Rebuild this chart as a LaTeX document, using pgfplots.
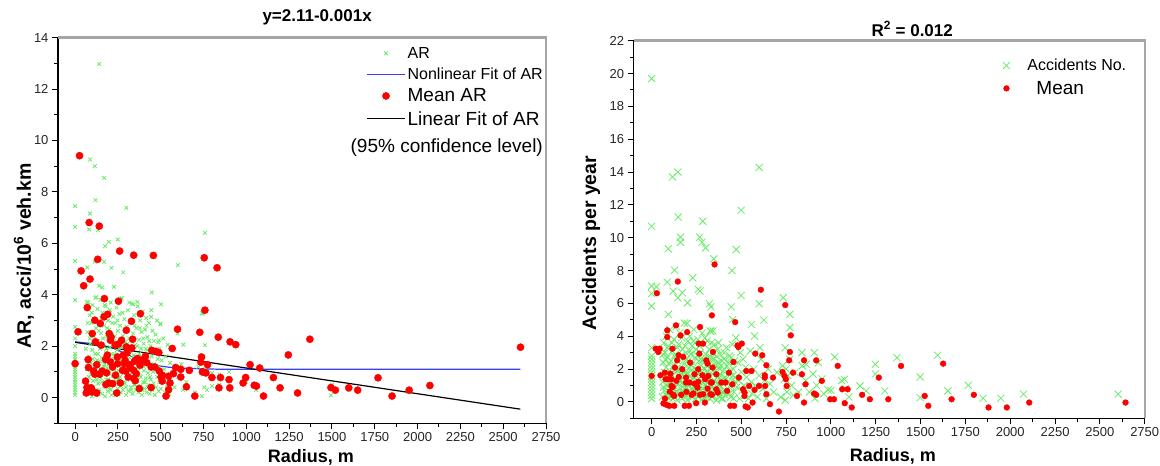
\documentclass[border=0pt]{standalone}
\usepackage{pgfplots}
\pgfplotsset{compat=1.18}
\usepackage{fontspec}
\setmainfont{Liberation Sans}
\definecolor{ptgreen}{RGB}{105,235,105}
\definecolor{ptred}{RGB}{255,0,0}
\definecolor{fitblue}{RGB}{60,60,255}
\definecolor{framegray}{RGB}{165,165,165}
\pgfplotsset{
  myaxis/.style={
    scale only axis, axis line style={line width=1.3pt, black},
    xtick pos=left, ytick pos=left,
    xmin=-100, xmax=2750, xtick distance=250, minor x tick num=1,
    ymin=-1, ytick distance=2, minor y tick num=1,
    tick align=outside, major tick length=6pt, minor tick length=3.5pt,
    tick style={black, line width=1pt},
    /pgf/number format/assume math mode=true, /pgf/number format/1000 sep={},
    tick label style={font=\fontsize{13}{15}\selectfont, text=black!85},
    xlabel style={font=\bfseries\fontsize{18}{20}\selectfont, anchor=center},
    ylabel style={font=\bfseries\fontsize{19.5}{22}\selectfont, anchor=center},
    title style={font=\bfseries\fontsize{17}{20}\selectfont, anchor=center},
    clip=false, legend cell align=left,
    extra description/.code={\draw[framegray, line width=2.4pt] (0,1) -- (1,1) -- (1,0);},
  },
  markleg/.style={legend image code/.code={\path[draw=none, fill=none] (0pt,0pt) -- (38pt,0pt); \draw[mark repeat=2,mark phase=2,##1] plot coordinates {(0pt,0pt) (19pt,0pt) (38pt,0pt)};}},
  lineleg/.style={legend image code/.code={\draw[##1] (0pt,0pt) -- (38pt,0pt);}},
}
\begin{document}
\begin{tikzpicture}
\useasboundingbox (0,0) rectangle (1160pt,466pt);
% ---------------- left axis ----------------
\begin{axis}[myaxis, at={(58pt,42.7pt)}, anchor=south west, width=488pt, height=385.6pt, ymax=14,
  title={y=2.11-0.001x}, title style={at={(axis description cs:0.531,1.038)}},
  xlabel={Radius, m}, xlabel style={at={(axis description cs:0.518,-0.088)}},
  ylabel={AR, acci/10\textsuperscript{6} veh.km}, ylabel style={at={(axis description cs:-0.07,0.434)}},
  legend style={draw=none, fill=none, at={(axis description cs:1,0.984)}, anchor=north east, inner sep=1pt, row sep=4pt, font=\fontsize{16}{19}\selectfont},
]
\addplot[only marks, mark=x, mark size=2.6pt, color=ptgreen, line width=0.8pt, markleg] coordinates {
(0,0.1)(0,0.2)(0,0.3)(0,0.4)(0,0.5)(0,0.6)(0,0.7)(0,0.8)(0,0.9)(0,1.0)(0,1.1)(0,1.2)(0,1.3)(0,1.4)(0,1.5)(0,1.6)(0,1.7)(0,2.0)(0,2.3)(0,2.75)(0,3.79)(0,5.32)(0,6.64)(0,7.45)
(141,12.98)(87,9.26)(115,9.0)(169,8.55)(119,7.68)(87,7.16)(299,7.38)(82,6.54)(134,6.51)(758,6.41)(249,6.15)(197,6.06)(175,5.89)(600,5.15)(115,5.28)(169,5.28)(71,5.06)(212,5.05)(281,4.87)(141,4.35)(158,4.28)(227,4.31)(448,4.09)(69,3.72)(119,3.88)(271,3.88)(364,3.72)(502,3.63)(340,3.63)(747,3.27)(444,3.14)(498,2.88)(758,2.04)(632,2.06)(598,2.49)(489,2.23)(741,3.28)
(65,0.35)(70,1.10)(72,2.55)(75,3.70)(78,0.15)(80,0.80)(82,1.60)(85,3.20)(88,2.10)(90,0.45)(92,1.35)(95,2.90)(98,0.05)(100,1.85)(102,3.60)(105,0.65)(108,2.40)(110,1.05)(112,0.25)(115,3.05)(118,1.70)(120,0.90)(122,2.70)(125,0.10)(128,1.45)(130,3.45)(132,2.20)(135,0.55)(138,1.20)(140,2.95)(142,0.30)(145,1.90)(148,3.80)(150,0.75)(152,2.50)(155,1.55)(158,0.15)(160,3.30)(162,1.00)(165,2.05)(168,0.45)(170,2.80)(172,1.30)(175,0.05)(178,3.55)(180,1.75)(182,0.70)(185,2.35)(188,1.15)(190,0.25)(192,3.00)(195,1.60)(198,0.95)(200,2.65)(202,0.40)(205,1.95)(208,3.70)(210,1.40)(212,0.10)(215,2.45)(218,0.85)(220,1.10)(222,3.15)(225,0.50)(228,2.20)(230,1.70)(232,0.20)(235,2.90)(238,1.25)(240,0.65)(242,3.50)(245,1.85)(248,0.35)(250,2.60)(252,1.05)(255,0.15)(258,3.25)(260,1.50)(262,0.80)(265,2.10)(268,0.45)(270,1.95)(272,3.85)(275,1.20)(278,0.30)(280,2.40)(282,0.95)(285,1.65)(288,3.05)(290,0.55)(292,2.15)(295,1.35)(298,0.10)(300,2.75)(302,1.80)(305,0.70)(308,3.40)(310,1.10)(312,0.25)(315,2.30)(318,1.55)(320,0.90)(322,2.95)(325,0.40)(328,1.95)(330,3.65)(332,1.25)(335,0.15)(338,2.50)(340,0.80)(342,1.65)(345,3.20)(348,0.50)(350,2.05)(352,1.00)(355,0.30)(358,2.70)(360,1.45)(362,0.65)(365,3.55)(368,1.15)(370,0.20)(372,2.25)(375,1.70)(378,0.85)(380,3.00)(382,0.45)(385,1.90)(388,2.55)(390,0.10)(392,1.30)(395,3.35)(398,0.60)(400,2.10)(402,1.05)(405,0.35)(408,2.65)(410,1.55)(412,0.75)(415,3.10)(418,0.20)(420,1.85)(422,2.35)(425,0.95)(428,0.50)(430,1.40)(432,2.90)(435,0.15)(438,1.15)(440,2.00)(442,0.70)(445,3.40)(448,1.60)(450,0.30)(452,2.60)(455,1.00)(458,0.55)(460,2.20)(462,1.30)(465,0.10)(468,1.75)(470,2.45)(472,0.40)(475,1.05)(478,3.00)(480,0.80)(482,1.50)(485,2.15)(488,0.25)(490,1.20)(492,0.60)(495,1.90)(498,2.85)(500,0.35)(505,1.45)(510,0.75)(515,2.30)(520,1.10)(525,0.20)(530,1.60)(535,0.50)(540,2.05)(545,0.90)(550,0.15)(555,1.35)(560,0.60)(570,1.00)(580,0.40)
(62,1.9)(68,0.6)(73,2.9)(77,1.3)(83,0.2)(87,2.3)(93,0.9)(97,3.3)(103,1.5)(107,0.4)(113,2.1)(117,1.1)(123,3.9)(127,0.7)(133,1.7)(137,2.6)(143,0.9)(147,1.4)(153,3.1)(157,0.6)(163,2.3)(167,1.2)(173,3.6)(177,0.4)(183,1.9)(187,2.7)(193,0.7)(197,1.3)(203,3.4)(207,0.3)(213,1.7)(217,2.9)(223,0.6)(227,1.5)(233,2.4)(237,0.1)(243,1.0)(247,3.0)(253,0.7)(257,1.9)(263,2.8)(267,0.2)(273,1.6)(277,3.3)(283,0.6)(287,1.1)(293,2.6)(297,0.4)(303,1.3)(307,2.1)(313,0.8)(317,3.7)(323,1.8)(327,0.3)(333,2.3)(337,1.0)(343,0.5)(347,2.8)(353,1.6)(357,0.9)(363,2.0)(367,0.4)(373,1.3)(377,2.7)(383,0.8)(387,1.6)(393,0.3)(397,2.3)(403,1.2)(407,0.6)(413,1.9)(417,2.8)(423,0.4)(427,1.3)(433,2.2)(437,0.8)
(600,0.80)(620,1.30)(630,0.30)(650,0.60)(700,0.20)(720,1.20)(740,0.05)(745,0.90)(750,1.60)(755,0.40)(760,1.10)(770,0.30)(800,0.45)(800,0.95)(842,0.90)(842,0.50)(900,1.00)(910,0.30)(1000,0.60)(1056,0.50)(1056,0.30)(1494,0.09)(1500,0.50)(1600,0.30)(1946,0.22)(2600,1.95)
};
\addlegendentry{AR}
\addplot[fitblue, line width=1.2pt, lineleg] coordinates {(0,2.17)(100,2.10)(206,1.97)(280,1.75)(336,1.58)(400,1.40)(465,1.26)(550,1.18)(639,1.14)(855,1.10)(1100,1.10)(2600,1.10)};
\addlegendentry{Nonlinear Fit of AR}
\addplot[only marks, mark=*, mark size=3.6pt, color=ptred, markleg] coordinates {
(26,9.41)(82,6.81)(141,6.67)(260,5.70)(342,5.54)(457,5.53)(754,5.44)(829,5.05)(132,5.38)(35,4.93)(87,4.61)(50,4.35)(171,3.85)(253,3.75)(71,3.50)(758,3.40)(381,3.26)(190,3.24)(115,3.01)(169,3.14)(329,2.97)(147,2.88)(17,2.56)(299,2.62)(598,2.66)(728,2.54)(100,2.49)(199,2.49)(210,2.34)(836,2.35)(1371,2.27)(905,2.17)(938,2.06)(336,2.27)(271,2.23)(119,2.17)(253,2.08)(234,2.04)(567,1.91)(1245,1.66)(2601,1.96)(472,1.80)(489,1.75)(448,1.84)(331,1.93)(303,1.74)(188,1.65)(247,1.58)(738,1.58)(76,1.48)(178,1.48)(364,1.52)(388,1.45)(0,1.32)(126,1.28)(249,1.32)(288,1.32)(418,1.36)(734,1.38)(1022,1.28)(773,1.28)(1078,1.15)(78,1.17)(219,1.19)(323,1.19)(465,1.19)(587,1.17)(617,1.10)(667,1.06)(108,1.03)(158,1.03)(297,1.03)(342,1.06)(492,1.03)(115,0.91)(743,1.00)(764,0.96)(236,0.87)(357,0.93)(509,0.87)(799,0.78)(849,0.78)(996,0.78)(1158,0.78)(1769,0.77)(617,0.80)(546,0.83)(899,0.70)(61,0.64)(351,0.66)(509,0.64)(197,0.57)(264,0.57)(981,0.57)(554,0.57)(180,0.51)(219,0.54)(1046,0.48)(1059,0.45)(2072,0.47)(69,0.39)(93,0.38)(375,0.35)(444,0.39)(650,0.42)(840,0.38)(903,0.38)(1197,0.38)(1494,0.39)(1598,0.38)(98,0.31)(546,0.31)(1520,0.29)(1650,0.29)(1951,0.29)(76,0.29)(65,0.18)(126,0.18)(243,0.18)(1299,0.18)(531,0.06)(699,0.06)(1100,0.06)(1851,0.06)(98,0.22)(502,0.80)(444,1.19)(310,0.80)(342,0.74)(184,0.96)(143,0.91)(292,1.45)(281,1.65)(206,1.39)(152,2.04)(206,2.23)(299,1.97)(346,1.41)(379,1.26)(318,1.28)(411,1.61)(574,0.93)(277,1.06)
};
\addlegendentry{\fontsize{19}{22}\selectfont Mean AR}
\addplot[black, line width=1.2pt, lineleg] coordinates {(0,2.15)(2600,-0.45)};
\addlegendentry{\fontsize{19}{22}\selectfont Linear Fit of AR}
\node[anchor=east, font=\fontsize{19}{22}\selectfont, inner sep=0pt] at (axis description cs:0.994,0.716) {(95\% confidence level)};
\end{axis}
% ---------------- right axis ----------------
\begin{axis}[myaxis, at={(633.7pt,47.7pt)}, anchor=south west, width=511pt, height=377.6pt, ymax=22,
  title={R\textsuperscript{2} = 0.012}, title style={at={(axis description cs:0.545,1.015)}},
  xlabel={Radius, m}, xlabel style={at={(axis description cs:0.507,-0.102)}},
  ylabel={Accidents per year}, ylabel style={at={(axis description cs:-0.0835,0.464)}},
  legend style={draw=none, fill=none, at={(axis description cs:0.97,0.96)}, anchor=north east, inner sep=1pt, row sep=5pt, font=\fontsize{16}{19}\selectfont},
]
\addplot[only marks, mark=x, mark size=5pt, color=ptgreen, line width=0.8pt, markleg] coordinates {
(0,0.2)(0,0.4)(0,0.6)(0,0.8)(0,1.0)(0,1.2)(0,1.4)(0,1.6)(0,1.8)(0,2.0)(0,2.2)(0,2.4)(0,2.6)(0,2.8)(0,3.3)
(0,19.69)(0,10.70)(0,5.83)(0,6.6)(0,7.05)(600,14.28)(146,14.00)(116,13.70)(148,11.26)(499,11.67)(285,11.0)(161,10.03)(161,9.72)(268,10.03)(281,9.72)(301,9.38)(472,9.28)(93,9.32)(347,8.71)(128,8.02)(448,8.00)(229,7.56)(87,7.29)(27,7.01)(260,6.85)(270,6.75)(120,6.75)(171,6.65)(499,6.48)(734,6.34)(600,5.98)(322,5.98)(146,6.34)(200,6.04)(93,5.33)(330,5.79)(444,5.79)(771,5.33)(625,4.98)(557,4.72)(198,4.78)(452,5.02)(771,4.52)(326,4.32)(342,4.32)(574,4.01)(604,3.30)(745,3.30)(1021,2.74)(1368,2.69)(1595,2.84)(1248,2.29)(838,3.00)(908,3.00)(1498,1.52)(1766,1.01)(1652,0.67)(1300,0.67)(1849,0.22)(1948,0.22)(2074,0.47)(2602,0.47)(1498,0.26)(1162,0.97)(1197,0.67)(1075,1.38)(984,0.73)(930,2.39)(862,2.29)(1248,1.70)
(60,0.3)(62,1.2)(65,2.4)(68,3.6)(70,0.7)(72,1.8)(75,3.0)(78,0.1)(80,2.1)(82,4.0)(85,1.0)(88,0.5)(90,2.7)(92,1.5)(95,3.4)(98,0.2)(100,1.9)(102,4.4)(105,0.8)(108,2.5)(110,1.2)(112,0.4)(115,3.1)(118,1.6)(120,0.9)(122,2.2)(125,3.8)(128,0.3)(130,1.4)(132,2.9)(135,0.6)(138,4.6)(140,1.9)(142,0.1)(145,2.5)(148,1.1)(150,3.5)(152,0.5)(155,2.0)(158,4.2)(160,1.3)(162,0.8)(165,2.8)(168,0.2)(170,1.7)(172,3.2)(175,0.6)(178,2.3)(180,1.0)(182,4.8)(185,0.4)(188,1.8)(190,3.0)(192,0.9)(195,2.6)(198,1.4)(200,0.1)(202,3.7)(205,1.2)(208,2.1)(210,0.5)(212,4.0)(215,1.6)(218,2.9)(220,0.8)(222,1.9)(225,3.4)(228,0.3)(230,2.4)(232,1.1)(235,4.4)(238,0.7)(240,1.5)(242,2.7)(245,0.2)(248,3.2)(250,1.3)(252,2.0)(255,0.6)(258,3.8)(260,1.7)(262,0.9)(265,2.5)(268,0.4)(270,1.2)(272,3.0)(275,2.2)(278,0.1)(280,1.6)(282,4.2)(285,0.8)(288,2.6)(290,1.4)(292,3.5)(295,0.5)(298,2.0)(300,1.0)(302,2.9)(305,0.3)(308,1.8)(310,3.7)(312,1.2)(315,0.7)(318,2.4)(320,1.5)(322,3.2)(325,0.2)(328,2.1)(330,4.3)(332,1.0)(335,2.7)(338,0.6)(340,1.7)(342,3.0)(345,0.4)(348,2.3)(350,1.3)(352,3.5)(355,0.8)(358,1.9)(360,2.8)(362,0.1)(365,1.5)(368,3.2)(370,0.6)(372,2.4)(375,1.1)(378,0.3)(380,2.0)(382,2.9)(385,0.9)(388,1.6)(390,0.2)(392,2.5)(395,1.2)(398,0.6)(400,1.9)(405,3.0)(410,0.4)(415,1.4)(420,2.2)(425,0.8)(430,1.7)(435,2.8)(440,0.3)(445,1.1)(450,3.5)(455,2.0)(460,0.6)(465,1.5)(470,3.9)(475,0.9)(480,2.4)(485,1.3)(490,0.2)(495,3.0)(500,1.8)(505,0.7)(510,2.6)(515,1.0)(520,0.4)(525,2.1)(530,1.5)(540,0.2)(550,3.1)(555,1.2)(560,0.5)(570,2.0)(580,1.0)(590,0.3)(600,1.6)(610,2.6)(620,0.8)(630,1.3)(640,0.2)(650,2.0)(660,1.1)(680,0.6)(700,1.8)(720,0.3)(730,2.2)(740,1.4)(745,0.1)(750,2.0)(755,0.6)(760,1.6)(770,2.6)(780,1.0)(790,0.4)(800,1.8)(820,0.6)(840,2.2)(860,1.3)(880,0.6)(900,1.7)(910,0.2)(920,1.0)(950,1.4)(960,0.5)(1000,0.7)(1060,1.3)(1080,0.8)(1100,0.3)
(63,2.9)(67,0.9)(73,1.5)(77,2.6)(83,0.4)(87,3.3)(93,1.1)(97,2.3)(103,0.6)(107,1.7)(113,3.6)(117,0.2)(123,1.3)(127,2.8)(133,0.9)(137,2.0)(143,3.3)(147,0.5)(153,1.6)(157,2.7)(163,0.3)(167,3.9)(173,1.2)(177,2.0)(183,0.8)(187,3.4)(193,1.7)(197,0.4)(203,2.5)(207,1.0)(213,3.1)(217,0.6)(223,2.2)(227,1.4)(233,3.7)(237,0.9)(243,2.0)(247,1.6)(253,0.4)(257,2.8)(263,1.1)(267,3.4)(273,0.7)(277,1.9)(283,2.5)(287,1.2)(293,0.3)(297,3.9)(303,1.6)(307,2.2)(313,0.5)(317,1.4)(323,2.7)(327,1.0)(333,3.6)(337,0.3)(343,1.9)(347,2.6)(353,0.6)(357,1.2)(363,2.3)(367,0.9)(373,3.6)(377,1.6)(383,0.5)(387,2.2)(393,1.3)(397,0.2)(403,2.6)(407,1.5)(413,0.7)(417,3.3)(423,1.2)(427,2.4)(433,0.5)(437,1.9)(443,2.7)(447,0.9)(453,1.6)(457,0.2)(463,2.5)(467,1.2)
};
\addlegendentry{Accidents No.}
\addplot[only marks, mark=*, mark size=2.9pt, color=ptred, markleg] coordinates {
(351,8.37)(146,7.33)(609,6.83)(29,6.62)(745,5.90)(336,5.27)(466,4.86)(136,4.66)(270,4.56)(87,4.36)(198,4.25)(161,4.05)(776,4.05)(87,3.95)(479,3.44)(503,3.55)(484,3.34)(262,3.55)(287,3.55)(23,3.24)(45,3.24)(37,3.04)(116,3.24)(342,3.04)(771,3.04)(578,2.94)(266,2.94)(617,2.84)(151,2.84)(177,2.74)(142,2.53)(456,2.43)(850,2.53)(918,2.53)(767,2.53)(215,2.39)(305,2.53)(1626,2.33)(312,2.33)(1391,2.19)(1038,2.19)(640,2.23)(340,2.09)(130,2.09)(171,1.99)(260,1.99)(528,1.88)(557,1.88)(730,1.82)(789,1.78)(431,1.78)(74,1.78)(105,1.72)(49,1.62)(239,1.68)(283,1.62)(361,1.68)(838,1.68)(0,1.58)(631,1.62)(741,1.58)(151,1.52)(316,1.58)(78,1.38)(109,1.38)(192,1.48)(487,1.48)(631,1.48)(677,1.48)(1267,1.48)(299,1.38)(93,1.38)(749,1.38)(949,1.28)(138,1.28)(192,1.18)(212,1.18)(260,1.22)(336,1.18)(388,1.18)(412,1.18)(111,0.97)(239,1.11)(450,1.07)(858,1.07)(753,0.97)(544,0.97)(599,0.97)(633,0.97)(118,0.91)(256,0.87)(312,0.81)(361,0.77)(1063,0.77)(1093,0.77)(510,0.77)(574,0.73)(421,0.67)(101,0.63)(194,0.61)(369,0.57)(518,0.57)(233,0.51)(328,0.47)(223,0.43)(120,0.43)(165,0.43)(270,0.43)(287,0.47)(640,0.47)(906,0.51)(918,0.43)(1174,0.43)(1797,0.43)(518,0.36)(811,0.36)(1523,0.36)(336,0.43)(74,0.20)(126,0.36)(996,0.16)(1017,0.16)(1217,0.16)(1320,0.16)(1673,0.16)(66,-0.10)(83,-0.18)(99,-0.24)(126,-0.24)(184,-0.24)(208,-0.24)(248,-0.08)(297,-0.04)(439,-0.24)(460,-0.24)(524,-0.28)(536,-0.34)(563,-0.04)(660,-0.14)(850,-0.04)(1077,-0.08)(1116,-0.34)(710,-0.59)(1543,-0.24)(1879,-0.34)(1981,-0.34)(2106,-0.04)(2643,-0.04)(330,1.18)
};
\addlegendentry{\fontsize{19}{22}\selectfont\hspace*{9pt}Mean}
\end{axis}
\end{tikzpicture}
\end{document}
